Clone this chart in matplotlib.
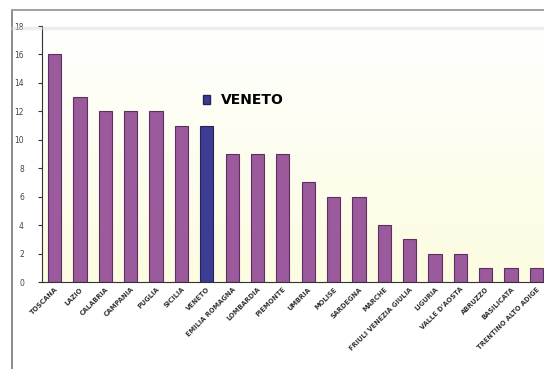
import numpy as np
import matplotlib
matplotlib.use("Agg")
import matplotlib.pyplot as plt
from matplotlib.patches import Rectangle
from matplotlib.lines import Line2D

regions = ["TOSCANA", "LAZIO", "CALABRIA", "CAMPANIA", "PUGLIA", "SICILIA",
           "VENETO", "EMILIA ROMAGNA", "LOMBARDIA", "PIEMONTE", "UMBRIA",
           "MOLISE", "SARDEGNA", "MARCHE", "FRIULI VENEZIA GIULIA", "LIGURIA",
           "VALLE D'AOSTA", "ABRUZZO", "BASILICATA", "TRENTINO ALTO ADIGE"]
counts = [16, 13, 12, 12, 12, 11, 11, 9, 9, 9, 7, 6, 6, 4, 3, 2, 2, 1, 1, 1]
highlight = "VENETO"
y_ticks = [0, 2, 4, 6, 8, 10, 12, 14, 16, 18]

purple = "#9a5a9c"
purple_edge = "#5e2f62"
blue = "#3c3c92"

fig = plt.figure(figsize=(5.44, 3.69), dpi=100)
fig.patch.set_facecolor("white")

# outer frame of the chart object
fig.add_artist(Line2D([12 / 544, 12 / 544], [0, 1 - 10 / 369],
                      transform=fig.transFigure, color="#8a8a8a", lw=1.4))
fig.add_artist(Line2D([12 / 544, 1], [1 - 10 / 369, 1 - 10 / 369],
                      transform=fig.transFigure, color="#a0a0a0", lw=1.4))
fig.add_artist(Line2D([12 / 544, 1], [1 - 28 / 369, 1 - 28 / 369],
                      transform=fig.transFigure, color="#d8d8d8", lw=2.5,
                      alpha=0.45))

ax = fig.add_axes([42 / 544, 1 - 282 / 369, 1 - 42 / 544, (282 - 26) / 369])

# soft white-to-cream gradient behind the bars
grad = np.linspace(0, 1, 256).reshape(-1, 1)
top_c = np.array([1.0, 1.0, 1.0])
bot_c = np.array([0.99, 0.99, 0.88])
img = top_c[None, None, :] * (1 - grad[..., None]) + bot_c[None, None, :] * grad[..., None]
ax.imshow(img, extent=[-0.5, 19.3, 0, 18], aspect="auto", origin="upper", zorder=0)

x = np.arange(len(regions))
colors = [blue if r == highlight else purple for r in regions]
edges = ["#23235e" if r == highlight else purple_edge for r in regions]
ax.bar(x, counts, width=0.52, color=colors, edgecolor=edges, linewidth=0.8, zorder=2)

ax.set_xlim(-0.5, 19.3)
ax.set_ylim(0, 18)
ax.set_yticks(y_ticks)
ax.set_yticklabels([str(v) for v in y_ticks], fontsize=5.5, color="#444444")
ax.set_xticks(x)
ax.set_xticklabels(regions, rotation=45, ha="right", rotation_mode="anchor",
                   fontsize=4.8, fontweight="bold", color="#333333")
ax.tick_params(axis="x", length=0, pad=3)
ax.tick_params(axis="y", length=3, width=0.8, color="#333333", pad=10)
for s in ["top", "right"]:
    ax.spines[s].set_visible(False)
ax.spines["left"].set_color("#333333")
ax.spines["bottom"].set_color("#333333")

legend_handle = Rectangle((0, 0), 1, 1, facecolor=blue, edgecolor="#23235e")
leg = ax.legend([legend_handle], [highlight], loc="center left",
                bbox_to_anchor=(0.32, 0.71), frameon=False, borderpad=0,
                borderaxespad=0, prop={"weight": "bold", "size": 10},
                handlelength=0.55, handleheight=0.55, handletextpad=0.8)

fig.savefig("out.png", dpi=100)
